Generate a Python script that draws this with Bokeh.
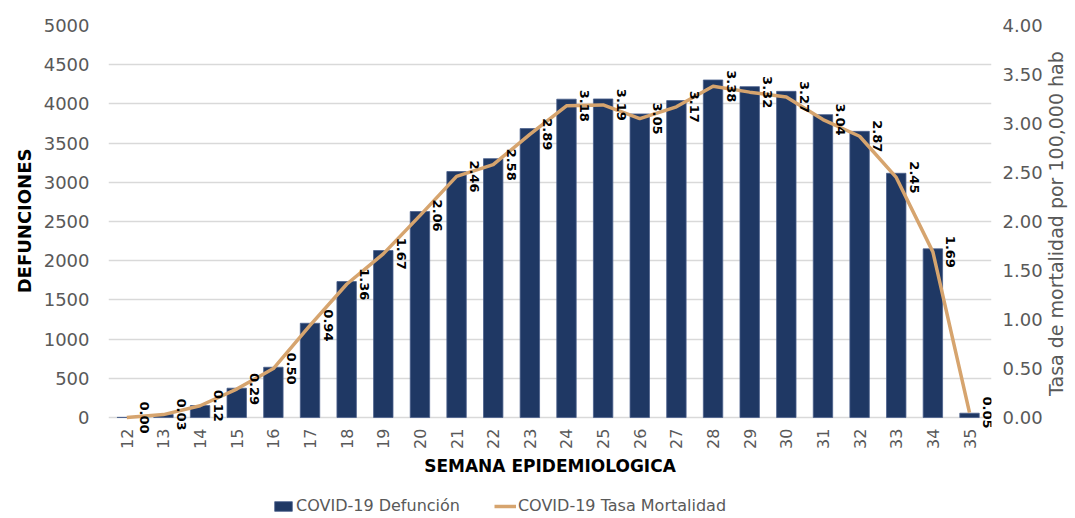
import math
from bokeh.plotting import figure
from bokeh.models import (Range1d, LinearAxis, ColumnDataSource, LabelSet, Label, FixedTicker,
                          NumeralTickFormatter, Legend, LegendItem, CustomJSTickFormatter)
from bokeh.embed import file_html
from bokeh.resources import INLINE
from bokeh.core.properties import value

# ---- data ----
weeks = [12, 13, 14, 15, 16, 17, 18, 19, 20, 21, 22, 23,
         24, 25, 26, 27, 28, 29, 30, 31, 32, 33, 34, 35]
week_labels = [str(w) for w in weeks]
deaths = [2, 38, 153, 374, 641, 1202, 1734, 2130, 2627, 3137, 3302, 3685,
          4060, 4063, 3872, 4042, 4305, 4220, 4160, 3863, 3650, 3115, 2151, 55]
rates = [0.00, 0.03, 0.12, 0.29, 0.50, 0.94, 1.36, 1.67, 2.06, 2.46, 2.58, 2.89,
         3.18, 3.19, 3.05, 3.17, 3.38, 3.32, 3.27, 3.04, 2.87, 2.45, 1.69, 0.05]
rate_labels = [f"{r:.2f}" for r in rates]
death_ticks = [0, 500, 1000, 1500, 2000, 2500, 3000, 3500, 4000, 4500, 5000]
rate_ticks = [0.0, 0.5, 1.0, 1.5, 2.0, 2.5, 3.0, 3.5, 4.0]
left_title = "DEFUNCIONES"
right_title = "Tasa de mortalidad por 100,000 hab"
x_title = "SEMANA EPIDEMIOLOGICA"
series_names = ["COVID-19 Defunción", "COVID-19 Tasa Mortalidad"]

FONT = "DejaVu Sans"
BAR = "#1F3864"
LINE = "#D6A46E"
GRID = "#D9D9D9"
TICK = "#595959"

src = ColumnDataSource(dict(week=weeks, deaths=deaths, rate=rates, lbl=rate_labels,
                            wlbl=week_labels))

# the plot frame reaches the bottom of the canvas so that the week labels,
# the x title and the legend (drawn below the zero line) are not clipped
p = figure(x_range=Range1d(11.5, 35.6), y_range=Range1d(-1288, 5000),
           frame_width=883, frame_height=493, x_axis_location=None,
           output_backend="svg", toolbar_location=None,
           min_border_left=104, min_border_right=0, min_border_top=25, min_border_bottom=0)
p.outline_line_color = None
p.background_fill_color = "white"
p.border_fill_color = "white"


def clean(ax):
    ax.axis_line_color = None
    ax.major_tick_line_color = None
    ax.minor_tick_line_color = None
    ax.major_tick_out = 0
    ax.major_tick_in = 0
    ax.minor_tick_out = 0
    ax.minor_tick_in = 0


# left axis (ticks)
ly = p.yaxis[0]
ly.ticker = FixedTicker(ticks=death_ticks)
ly.major_label_text_font = FONT
ly.major_label_text_font_size = "18px"
ly.major_label_text_color = TICK
ly.major_label_standoff = 19
clean(ly)

p.ygrid.grid_line_color = GRID
p.ygrid.grid_line_width = 1.5
p.xgrid.grid_line_color = None

# left title (reads bottom-to-top) as a single rotated tick label
ly2 = LinearAxis(ticker=FixedTicker(ticks=[3430]),
                 formatter=CustomJSTickFormatter(args=dict(t=left_title), code="return t;"))
ly2.major_label_orientation = math.pi / 2
ly2.major_label_text_font = FONT
ly2.major_label_text_font_style = "bold"
ly2.major_label_text_font_size = "18px"
ly2.major_label_text_color = "black"
ly2.major_label_standoff = 16
clean(ly2)
p.add_layout(ly2, "left")

# right axis (ticks)
p.extra_y_ranges = {"rate": Range1d(-1.0304, 4)}
ry = LinearAxis(y_range_name="rate", ticker=FixedTicker(ticks=rate_ticks),
                formatter=NumeralTickFormatter(format="0.00"))
ry.major_label_text_font = FONT
ry.major_label_text_font_size = "18px"
ry.major_label_text_color = TICK
ry.major_label_standoff = 11
clean(ry)
p.add_layout(ry, "right")

# right title (reads bottom-to-top) as a single rotated tick label
ry2 = LinearAxis(y_range_name="rate",
                 ticker=FixedTicker(ticks=[0.22]),
                 formatter=CustomJSTickFormatter(args=dict(t=right_title), code="return t;"))
ry2.major_label_orientation = math.pi / 2
ry2.major_label_text_font = FONT
ry2.major_label_text_font_size = "19px"
ry2.major_label_text_color = TICK
ry2.major_label_standoff = 11
clean(ry2)
p.add_layout(ry2, "right")

# glyphs
bars = p.vbar(x="week", top="deaths", width=0.53, source=src,
              fill_color=BAR, line_color="#4A5F8C", line_width=0.8)
line = p.line(x="week", y="rate", y_range_name="rate", source=src,
              line_color=LINE, line_width=3.5, line_join="round")

# data labels
labels = LabelSet(x="week", y="rate", text="lbl", y_range_name="rate", source=src,
                  x_offset=18, angle=-math.pi / 2, text_align="center",
                  text_baseline="middle", text_font=value(FONT),
                  text_font_size="13px", text_font_style="bold", text_color="black")
p.add_layout(labels)

# week labels (x axis), reading bottom-to-top
wl = LabelSet(x="week", y=0, text="wlbl", source=src, y_offset=-11,
              angle=math.pi / 2, text_align="right", text_baseline="middle",
              text_font=value(FONT), text_font_size="16px", text_color=TICK)
p.add_layout(wl)

# x title
p.add_layout(Label(x=(p.x_range.start + p.x_range.end) / 2, y=0, y_offset=-48,
                   text=x_title, text_align="center", text_baseline="middle",
                   text_font=FONT, text_font_size="17px", text_font_style="bold",
                   text_color="black"))

legend = Legend(items=[LegendItem(label=series_names[0], renderers=[bars]),
                       LegendItem(label=series_names[1], renderers=[line])],
                orientation="horizontal", location=(164, 3),
                border_line_color=None, background_fill_alpha=0,
                label_text_font=FONT, label_text_font_size="16px", label_text_color=TICK,
                label_height=18, glyph_width=22, glyph_height=12, spacing=34,
                label_standoff=2, padding=0, margin=0)
p.add_layout(legend)

open("out.html", "w").write(file_html(p, INLINE))
